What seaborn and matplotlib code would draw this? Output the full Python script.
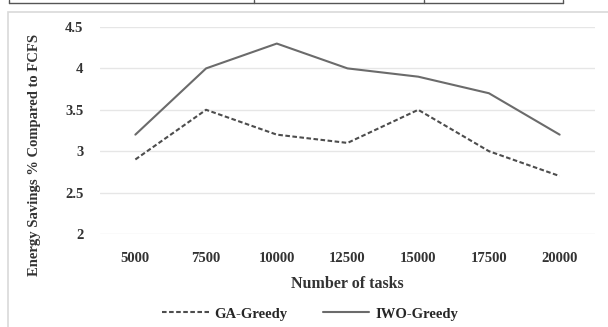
import matplotlib
matplotlib.use("Agg")
import matplotlib.pyplot as plt
import seaborn as sns
import pandas as pd
from matplotlib.lines import Line2D
from matplotlib.patches import Rectangle

tasks = ["5000", "7500", "10000", "12500", "15000", "17500", "20000"]
ga_greedy = [2.9, 3.5, 3.2, 3.1, 3.5, 3.0, 2.7]
iwo_greedy = [3.2, 4.0, 4.3, 4.0, 3.9, 3.7, 3.2]

df = pd.DataFrame({
    "tasks": tasks * 2,
    "saving": ga_greedy + iwo_greedy,
    "method": ["GA-Greedy"] * len(tasks) + ["IWO-Greedy"] * len(tasks),
})

sns.set_style("white")
plt.rcParams["font.family"] = ["Liberation Serif", "DejaVu Serif"]
plt.rcParams["font.weight"] = "bold"

W, H = 608, 327
fig = plt.figure(figsize=(W / 100, H / 100), dpi=100)

# chart frame and strip of table above it
fig.add_artist(Rectangle((8 / W, -0.05), 1.1, 1 - 12 / H + 0.05, transform=fig.transFigure,
                         fill=False, edgecolor="#d9d9d9", linewidth=1.2))
fig.add_artist(Line2D([8.5 / W, 563 / W], [1 - 3 / H, 1 - 3 / H], transform=fig.transFigure,
                      color="#555555", linewidth=1))
for xv in [8.5, 254, 424, 563]:
    fig.add_artist(Line2D([xv / W, xv / W], [1 - 3 / H, 1.0], transform=fig.transFigure,
                          color="#555555", linewidth=1))

ax = fig.add_axes([100 / W, 1 - 234 / H, 495 / W, 207 / H])
sns.lineplot(data=df, x="tasks", y="saving", hue="method", style="method",
             palette={"GA-Greedy": "#4d4d4d", "IWO-Greedy": "#6b6b6b"},
             dashes={"GA-Greedy": (2.2, 1.2), "IWO-Greedy": ""},
             linewidth=1.5, ax=ax, legend=False)

ax.set_ylim(2, 4.5)
ax.set_xlim(-0.5, len(tasks) - 0.5)
ax.set_yticks([2, 2.5, 3, 3.5, 4, 4.5])
ax.set_yticklabels(["2", "2.5", "3", "3.5", "4", "4.5"])
ax.yaxis.grid(True, color="#e6e6e6", linewidth=1)
for s in ax.spines.values():
    s.set_visible(False)
ax.tick_params(axis="both", length=0, labelsize=10.5, colors="#333333")
ax.tick_params(axis="x", pad=13)
ax.tick_params(axis="y", pad=12)
for t in ax.get_xticklabels() + ax.get_yticklabels():
    t.set_fontweight("bold")

ax.set_xlabel("Number of tasks", fontsize=11.5, fontweight="bold", color="#333333", labelpad=8)
ax.set_ylabel("Energy Savings % Compared to FCFS", fontsize=10.5, fontweight="bold",
              color="#333333")
ax.yaxis.set_label_coords(-59 / 495, (234 - 155) / 207)

handles = [Line2D([], [], color="#4d4d4d", linestyle=(0, (2.2, 1.2)), linewidth=1.5),
           Line2D([], [], color="#6b6b6b", linewidth=1.5)]
fig.legend(handles, ["GA-Greedy", "IWO-Greedy"], loc="center", bbox_to_anchor=(310 / W, 1 - 314 / H),
           ncol=2, frameon=False, prop={"size": 10.5, "weight": "bold"}, handlelength=3.2,
           handletextpad=0.4, columnspacing=2.4)

fig.savefig("out.png", dpi=100)
